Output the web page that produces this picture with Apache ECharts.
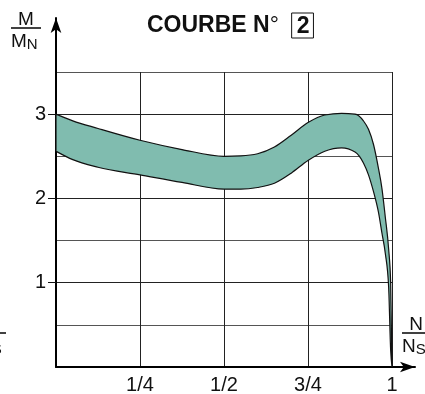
<!DOCTYPE html>
<html>
<head>
<meta charset="utf-8">
<script src="https://cdn.jsdelivr.net/npm/echarts@6/dist/echarts.min.js"></script>
<style>
  html, body { margin: 0; padding: 0; background: #fff; }
  #chart { width: 425px; height: 394px; }
</style>
</head>
<body>
<div id="chart"></div>
<script>
// Speed ratio N/Ns at which both envelope curves are sampled
const speedRatio = [0, 0.05, 0.125, 0.25, 0.375, 0.5, 0.55, 0.6, 0.65, 0.7, 0.75, 0.8, 0.85,
                    0.89, 0.915, 0.93, 0.945, 0.96, 0.97, 0.98, 0.99, 0.996, 1.0];
// Upper torque limit M/MN
const torqueUpper = [3.00, 2.92, 2.83, 2.69, 2.58, 2.50, 2.505, 2.53, 2.61, 2.75, 2.90, 2.99, 3.01,
                     3.00, 2.92, 2.82, 2.64, 2.35, 2.12, 1.78, 1.40, 1.00, 0.00];
// Lower torque limit M/MN
const torqueLower = [2.56, 2.46, 2.37, 2.28, 2.19, 2.11, 2.11, 2.13, 2.18, 2.30, 2.45, 2.56, 2.60,
                     2.55, 2.42, 2.28, 2.08, 1.83, 1.59, 1.35, 0.95, 0.20, 0.00];
// Axis tick values and labels
const speedTickValues = [0.25, 0.5, 0.75, 1];
const speedTickLabels = ['1/4', '1/2', '3/4', '1'];
const torqueTickValues = [1, 2, 3];
const curveNumber = '2';

const FONT = '"Liberation Sans", Arial, sans-serif';
const BAND = '#80bcaf';

// Monotone-in-x cubic segments through pixel points: [p0, c1, c2, p1] per segment
function monotoneSegments(pts) {
  const n = pts.length;
  const sign = v => (v > 0 ? 1 : v < 0 ? -1 : 0);
  const slope = (a, b) => {
    const h = b[0] - a[0];
    return h === 0 ? (b[1] - a[1]) * 1e6 : (b[1] - a[1]) / h;
  };
  const t = new Array(n).fill(0);
  for (let i = 1; i < n - 1; i++) {
    const h0 = pts[i][0] - pts[i - 1][0], h1 = pts[i + 1][0] - pts[i][0];
    const s0 = slope(pts[i - 1], pts[i]), s1 = slope(pts[i], pts[i + 1]);
    const p = (s0 * h1 + s1 * h0) / (h0 + h1 || 1);
    t[i] = (sign(s0) + sign(s1)) * Math.min(Math.abs(s0), Math.abs(s1), 0.5 * Math.abs(p)) || 0;
  }
  t[0] = (3 * slope(pts[0], pts[1]) - t[1]) / 2;
  t[n - 1] = (3 * slope(pts[n - 2], pts[n - 1]) - t[n - 2]) / 2;
  const segs = [];
  for (let i = 0; i < n - 1; i++) {
    const a = pts[i], b = pts[i + 1];
    const dx = (b[0] - a[0]) / 3;
    segs.push([a, [a[0] + dx, a[1] + dx * t[i]], [b[0] - dx, b[1] - dx * t[i + 1]], b]);
  }
  return segs;
}

// Closed band outline: upper curve left to right, lower curve back right to left
function bandPath(api) {
  const up = speedRatio.map((s, i) => api.coord([s, torqueUpper[i]]));
  const lo = speedRatio.map((s, i) => api.coord([s, torqueLower[i]]));
  const f = p => p[0].toFixed(2) + ' ' + p[1].toFixed(2);
  let d = 'M' + f(up[0]);
  monotoneSegments(up).forEach(s => { d += ' C' + f(s[1]) + ' ' + f(s[2]) + ' ' + f(s[3]); });
  d += ' L' + f(lo[lo.length - 1]);
  monotoneSegments(lo).reverse().forEach(s => { d += ' C' + f(s[2]) + ' ' + f(s[1]) + ' ' + f(s[0]); });
  return d + ' Z';
}

// Fraction-style axis caption: numerator, bar, denominator with subscript
function fraction(x, y, top, base, sub, barWidth) {
  return {
    type: 'group', x: x, y: y, silent: true,
    children: [
      { type: 'text', x: barWidth / 2, y: 0, style: { text: top, font: '19px ' + FONT, fill: '#111', align: 'center', verticalAlign: 'top' } },
      { type: 'line', shape: { x1: 0, y1: 18, x2: barWidth, y2: 18 }, style: { stroke: '#111', lineWidth: 1.6 } },
      { type: 'text', x: 0, y: 22, style: {
          text: '{b|' + base + '}{s|' + sub + '}', fill: '#111', verticalAlign: 'top',
          rich: { b: { fontSize: 19, fontFamily: FONT, fill: '#111' }, s: { fontSize: 15, fontFamily: FONT, fill: '#111', padding: [5, 0, 0, 0] } }
        } }
    ]
  };
}

const hiddenAxisParts = { axisLine: { show: false }, axisTick: { show: false }, axisLabel: { show: false }, splitLine: { show: false } };

const chart = echarts.init(document.getElementById('chart'), null, { renderer: 'canvas' });
chart.setOption({
  animation: false,
  backgroundColor: '#fff',
  title: {
    text: '{t|COURBE N}{d|°}{t|  }{n|' + curveNumber + '}',
    left: 142, top: 8,
    textStyle: {
      rich: {
        t: { fontSize: 23, fontWeight: 'bold', fontFamily: FONT, color: '#111' },
        d: { fontSize: 23, fontWeight: 'normal', fontFamily: FONT, color: '#111' },
        n: { fontSize: 23, fontWeight: 'bold', fontFamily: FONT, color: '#111', borderColor: '#111', borderWidth: 1, padding: [2, 4, 0, 5] }
      }
    }
  },
  grid: [
    { left: 56, bottom: 27, width: 336, height: 295, outerBoundsMode: 'none', containLabel: false },
    { left: 56, bottom: 27, top: 18, right: 10, outerBoundsMode: 'none', containLabel: false }
  ],
  xAxis: [
    {
      type: 'value', gridIndex: 0, min: 0, max: 1, interval: 0.25,
      axisLine: { show: false }, axisTick: { show: false },
      axisLabel: {
        margin: 8, color: '#111', fontFamily: FONT, fontSize: 20,
        formatter: v => { const i = speedTickValues.indexOf(v); return i >= 0 ? speedTickLabels[i] : ''; }
      },
      splitLine: { show: true, lineStyle: { color: '#222', width: 1 } }
    },
    Object.assign({}, hiddenAxisParts, {
      type: 'value', gridIndex: 1, min: 0, max: 1,
      axisLine: { show: true, symbol: ['none', 'arrow'], symbolSize: [8, 15], lineStyle: { color: '#000', width: 2 } }
    })
  ],
  yAxis: [
    // grid lines every half unit
    Object.assign({}, hiddenAxisParts, {
      type: 'value', gridIndex: 0, min: 0, max: 3.5, interval: 0.5,
      splitLine: { show: true, lineStyle: { color: ['#222', '#555'], width: 1 } }
    }),
    // axis with arrow
    Object.assign({}, hiddenAxisParts, {
      type: 'value', gridIndex: 1, min: 0, max: 1,
      axisLine: { show: true, symbol: ['none', 'arrow'], symbolSize: [8, 15], lineStyle: { color: '#000', width: 2 } }
    }),
    // integer ticks and labels
    Object.assign({}, hiddenAxisParts, {
      type: 'value', gridIndex: 0, min: 0, max: 3.5, position: 'left', offset: 0,
      axisTick: { show: true, length: 8, customValues: torqueTickValues, lineStyle: { color: '#111', width: 1 } },
      axisLabel: { show: true, margin: 10, color: '#111', fontFamily: FONT, fontSize: 20, customValues: torqueTickValues }
    })
  ],
  series: [
    {
      name: 'torque band', type: 'custom', coordinateSystem: 'cartesian2d',
      xAxisIndex: 0, yAxisIndex: 0, z: 3, silent: true,
      data: [[0, 0]],
      renderItem: (params, api) => ({
        type: 'path',
        shape: { pathData: bandPath(api) },
        style: { fill: BAND, stroke: '#111', lineWidth: 1.2 }
      })
    }
  ],
  graphic: [
    fraction(11, 10, 'M', 'M', 'N', 30),
    fraction(402, 315, 'N', 'N', 'S', 28),
    fraction(402 - 424, 315, 'N', 'N', 'S', 28)
  ]
});
</script>
</body>
</html>
